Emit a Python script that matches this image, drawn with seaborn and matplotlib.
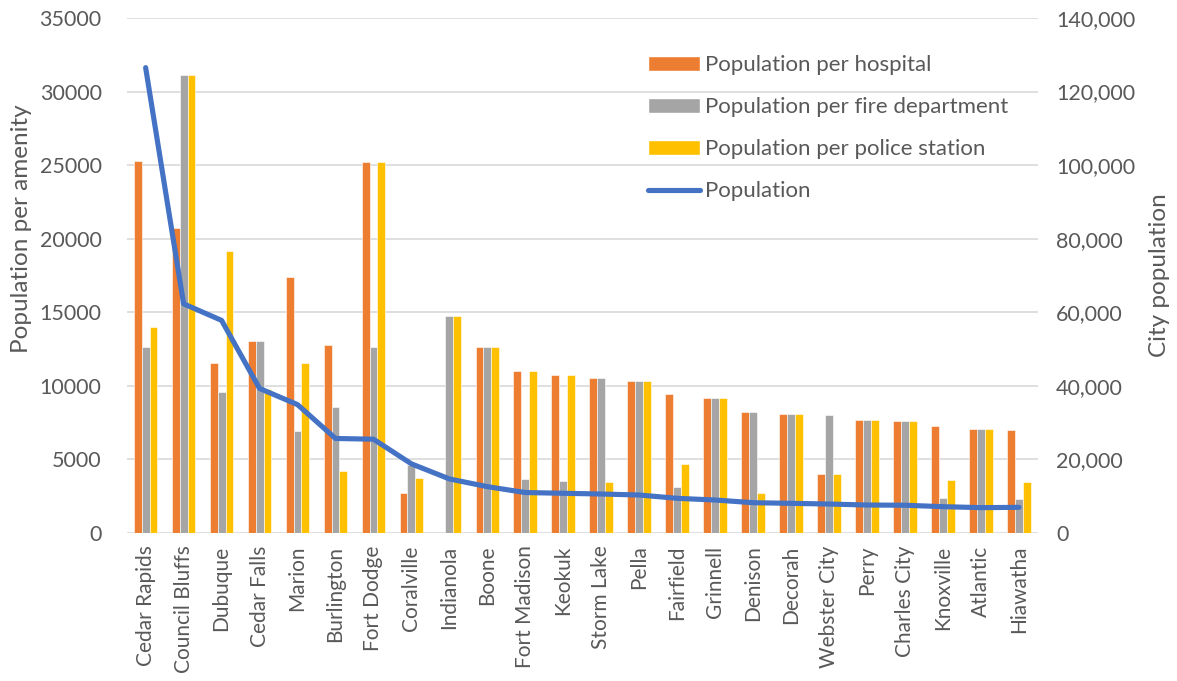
import pandas as pd
import matplotlib
matplotlib.use("Agg")
import matplotlib.pyplot as plt
import seaborn as sns
from matplotlib.ticker import FuncFormatter
from matplotlib.patches import Patch
from matplotlib.lines import Line2D

sns.set_style("white")
plt.rcParams['font.family'] = ['Lato', 'DejaVu Sans']

cities = ["Cedar Rapids", "Council Bluffs", "Dubuque", "Cedar Falls", "Marion",
          "Burlington", "Fort Dodge", "Coralville", "Indianola", "Boone",
          "Fort Madison", "Keokuk", "Storm Lake", "Pella", "Fairfield", "Grinnell",
          "Denison", "Decorah", "Webster City", "Perry", "Charles City",
          "Knoxville", "Atlantic", "Hiawatha"]
per_hospital = [25250, 20730, 11520, 13060, 17390, 12810, 25210, 2700, 0, 12630,
                11020, 10720, 10560, 10330, 9420, 9190, 8250, 8090, 4000, 7660,
                7610, 7270, 7070, 7000]
per_fire = [12640, 31120, 9570, 13060, 6940, 8550, 12640, 4650, 14770, 12630,
            3640, 3550, 10560, 10330, 3100, 9190, 8250, 8090, 8030, 7660,
            7610, 2410, 7070, 2300]
per_police = [14030, 31120, 19190, 9790, 11570, 4240, 25210, 3730, 14770, 12630,
              11020, 10720, 3480, 10330, 4690, 9190, 2730, 8090, 4000, 7660,
              7610, 3610, 7070, 3480]
population = [126500, 62300, 57800, 39300, 34900, 25700, 25500, 18800, 14700, 12600,
              11000, 10800, 10600, 10330, 9430, 8970, 8240, 8070, 7880, 7610,
              7550, 7160, 6900, 6980]

series = ["Population per hospital", "Population per fire department",
          "Population per police station"]
palette = ["#ED7D31", "#A5A5A5", "#FFC000"]
line_color = "#4472C4"
text_color = "#595959"
grid_color = "#D9D9D9"

df = pd.DataFrame({
    "city": cities * 3,
    "amenity": [series[0]] * 24 + [series[1]] * 24 + [series[2]] * 24,
    "value": per_hospital + per_fire + per_police,
})

fig = plt.figure(figsize=(11.77, 6.81), dpi=100)
ax = fig.add_axes([0.1076, 0.2173, 0.7743, 0.7563])

sns.barplot(data=df, x="city", y="value", hue="amenity", palette=palette,
            saturation=1, width=0.625, edgecolor="white", linewidth=0.4,
            ax=ax, legend=False)

ax.set_ylim(0, 35000)
ax.set_xlim(-0.5, len(cities) - 0.5)
ax.set_yticks(range(0, 35001, 5000))
ax.yaxis.grid(True, color=grid_color, linewidth=1.2)
ax.set_axisbelow(True)
for s in ax.spines.values():
    s.set_visible(False)
ax.set_xlabel("")
ax.set_ylabel("Population per amenity", fontsize=17.5, color=text_color)
ax.yaxis.set_label_coords(-0.104, 0.591)
ax.tick_params(axis="x", labelrotation=90, labelsize=15, colors=text_color, length=0, pad=9)
ax.tick_params(axis="y", labelsize=15.5, colors=text_color, length=0, pad=18)

ax2 = ax.twinx()
sns.lineplot(x=list(range(len(cities))), y=population, color=line_color,
             linewidth=3.7, ax=ax2, solid_capstyle="round", legend=False)
ax2.set_ylim(0, 140000)
ax2.set_yticks(range(0, 140001, 20000))
ax2.yaxis.set_major_formatter(FuncFormatter(lambda v, p: f"{int(v):,}"))
ax2.tick_params(axis="y", labelsize=15.5, colors=text_color, length=0, pad=13)
ax2.set_ylabel("City population", fontsize=17.5, color=text_color, labelpad=10)
for s in ax2.spines.values():
    s.set_visible(False)
ax2.grid(False)

handles = [Patch(facecolor=c) for c in palette] + [
    Line2D([0], [0], color=line_color, linewidth=3.7, solid_capstyle="round")]
labels = series + ["Population"]
ax2.legend(handles, labels, loc="upper left", bbox_to_anchor=(0.562, 0.945),
           frameon=False, fontsize=16, labelcolor=text_color,
           handlelength=2.35, handleheight=0.63, handletextpad=0.22,
           labelspacing=0.99, borderaxespad=0)

fig.savefig("out.png", dpi=100)
